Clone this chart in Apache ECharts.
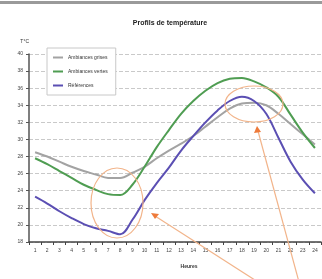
<!DOCTYPE html>
<html>
<head>
<meta charset="utf-8">
<script src="https://cdn.jsdelivr.net/npm/echarts@6/dist/echarts.min.js"></script>
<style>
html,body{margin:0;padding:0;background:#fff;}
#main{width:322px;height:279px;}
</style>
</head>
<body>
<div id="main"></div>
<script>
// heures de la journée
var heures = ['1','2','3','4','5','6','7','8','9','10','11','12','13','14','15','16','17','18','19','20','21','22','23','24'];
// températures relevées (°C)
var grises = [28.5,28.0,27.4,26.8,26.3,25.9,25.5,25.5,26.1,26.8,27.8,28.7,29.5,30.4,31.5,32.6,33.6,34.2,34.3,34.0,33.0,31.8,30.6,29.4];
var vertes = [27.8,27.1,26.3,25.5,24.7,24.1,23.6,23.5,24.7,26.8,29.1,31.1,33.0,34.5,35.7,36.6,37.1,37.2,36.8,36.1,35.0,32.9,30.8,29.0];
var reference = [23.3,22.5,21.6,20.8,20.1,19.6,19.3,18.9,20.6,22.9,24.9,26.7,28.7,30.4,32.0,33.4,34.5,35.0,34.5,33.0,30.2,27.4,25.3,23.7];
var noms = ['Ambiances grises','Ambiances vertes','Références'];
var couleurs = ['#a3a3a3','#4f9d52','#5b4fb3'];

var myChart = echarts.init(document.getElementById('main'));

function serie(nom, data, i){
    return {
        name: nom,
        type: 'line',
        smooth: 0.35,
        symbol: 'none',
        data: data,
        lineStyle: {width: 2, color: couleurs[i]},
        itemStyle: {color: couleurs[i]},
        z: 3 + i
    };
}

myChart.setOption({
    animation: false,
    backgroundColor: '#fff',
    title: {
        text: 'Profils de température',
        left: 165,
        textAlign: 'center',
        top: 15,
        textStyle: {fontSize: 7, fontWeight: 'bold', color: '#222', fontFamily: 'Liberation Sans'}
    },
    legend: {
        orient: 'vertical',
        left: 47,
        top: 48,
        data: noms,
        icon: 'rect',
        itemWidth: 10,
        itemHeight: 2,
        itemGap: 9,
        padding: [7, 8, 7, 6],
        borderColor: '#c8c8c8',
        borderWidth: 1,
        backgroundColor: '#fff',
        textStyle: {fontSize: 5, color: '#333', fontFamily: 'Liberation Sans'}
    },
    grid: {left: 29, right: 1, top: 54, bottom: 37},
    xAxis: {
        type: 'category',
        data: heures,
        boundaryGap: true,
        name: 'Heures',
        nameLocation: 'middle',
        nameGap: 22,
        nameTextStyle: {fontSize: 5, fontWeight: 'bold', color: '#333', padding: [0, 0, 0, 28]},
        axisLine: {lineStyle: {color: '#444', width: 1.5}},
        axisTick: {show: true, length: 3, lineStyle: {color: '#444'}},
        axisLabel: {fontSize: 5, color: '#444', margin: 6, interval: 0}
    },
    yAxis: {
        type: 'value',
        min: 18,
        max: 40,
        interval: 2,
        name: 'T°C',
        nameLocation: 'end',
        nameGap: 10,
        nameTextStyle: {fontSize: 5, color: '#333', align: 'right', padding: [0, 0, 0, 0]},
        axisLine: {show: true, lineStyle: {color: '#555', width: 1.5}},
        axisTick: {show: true, length: 3, lineStyle: {color: '#555'}},
        axisLabel: {fontSize: 5, color: '#444', margin: 6},
        splitLine: {lineStyle: {color: '#c9c9c9', type: 'dashed', width: 1}}
    },
    series: [
        serie(noms[0], grises, 0),
        serie(noms[1], vertes, 1),
        serie(noms[2], reference, 2)
    ],
    graphic: [
        // bandeau gris en haut
        {type: 'rect', shape: {x: 0, y: 1, width: 322, height: 3}, style: {fill: '#9a9a9a'}, z: 10},
        // annotations orange
        {type: 'ellipse', shape: {cx: 117, cy: 203, rx: 26, ry: 35}, style: {fill: 'none', stroke: '#f2b48a', lineWidth: 1.2}, z: 20},
        {type: 'ellipse', shape: {cx: 254, cy: 104, rx: 29, ry: 18}, style: {fill: 'none', stroke: '#f2b48a', lineWidth: 1.2}, z: 20},
        {type: 'line', shape: {x1: 155, y1: 216, x2: 258, y2: 282}, style: {stroke: '#f2b48a', lineWidth: 1.2}, z: 20},
        {type: 'polygon', shape: {points: [[151, 213], [159, 214], [155, 219]]}, style: {fill: '#ee7a3a'}, z: 21},
        {type: 'line', shape: {x1: 258, y1: 131, x2: 299, y2: 282}, style: {stroke: '#f2b48a', lineWidth: 1.2}, z: 20},
        {type: 'polygon', shape: {points: [[257, 126], [254, 133], [261, 132]]}, style: {fill: '#ee7a3a'}, z: 21}
    ]
});
</script>
</body>
</html>
